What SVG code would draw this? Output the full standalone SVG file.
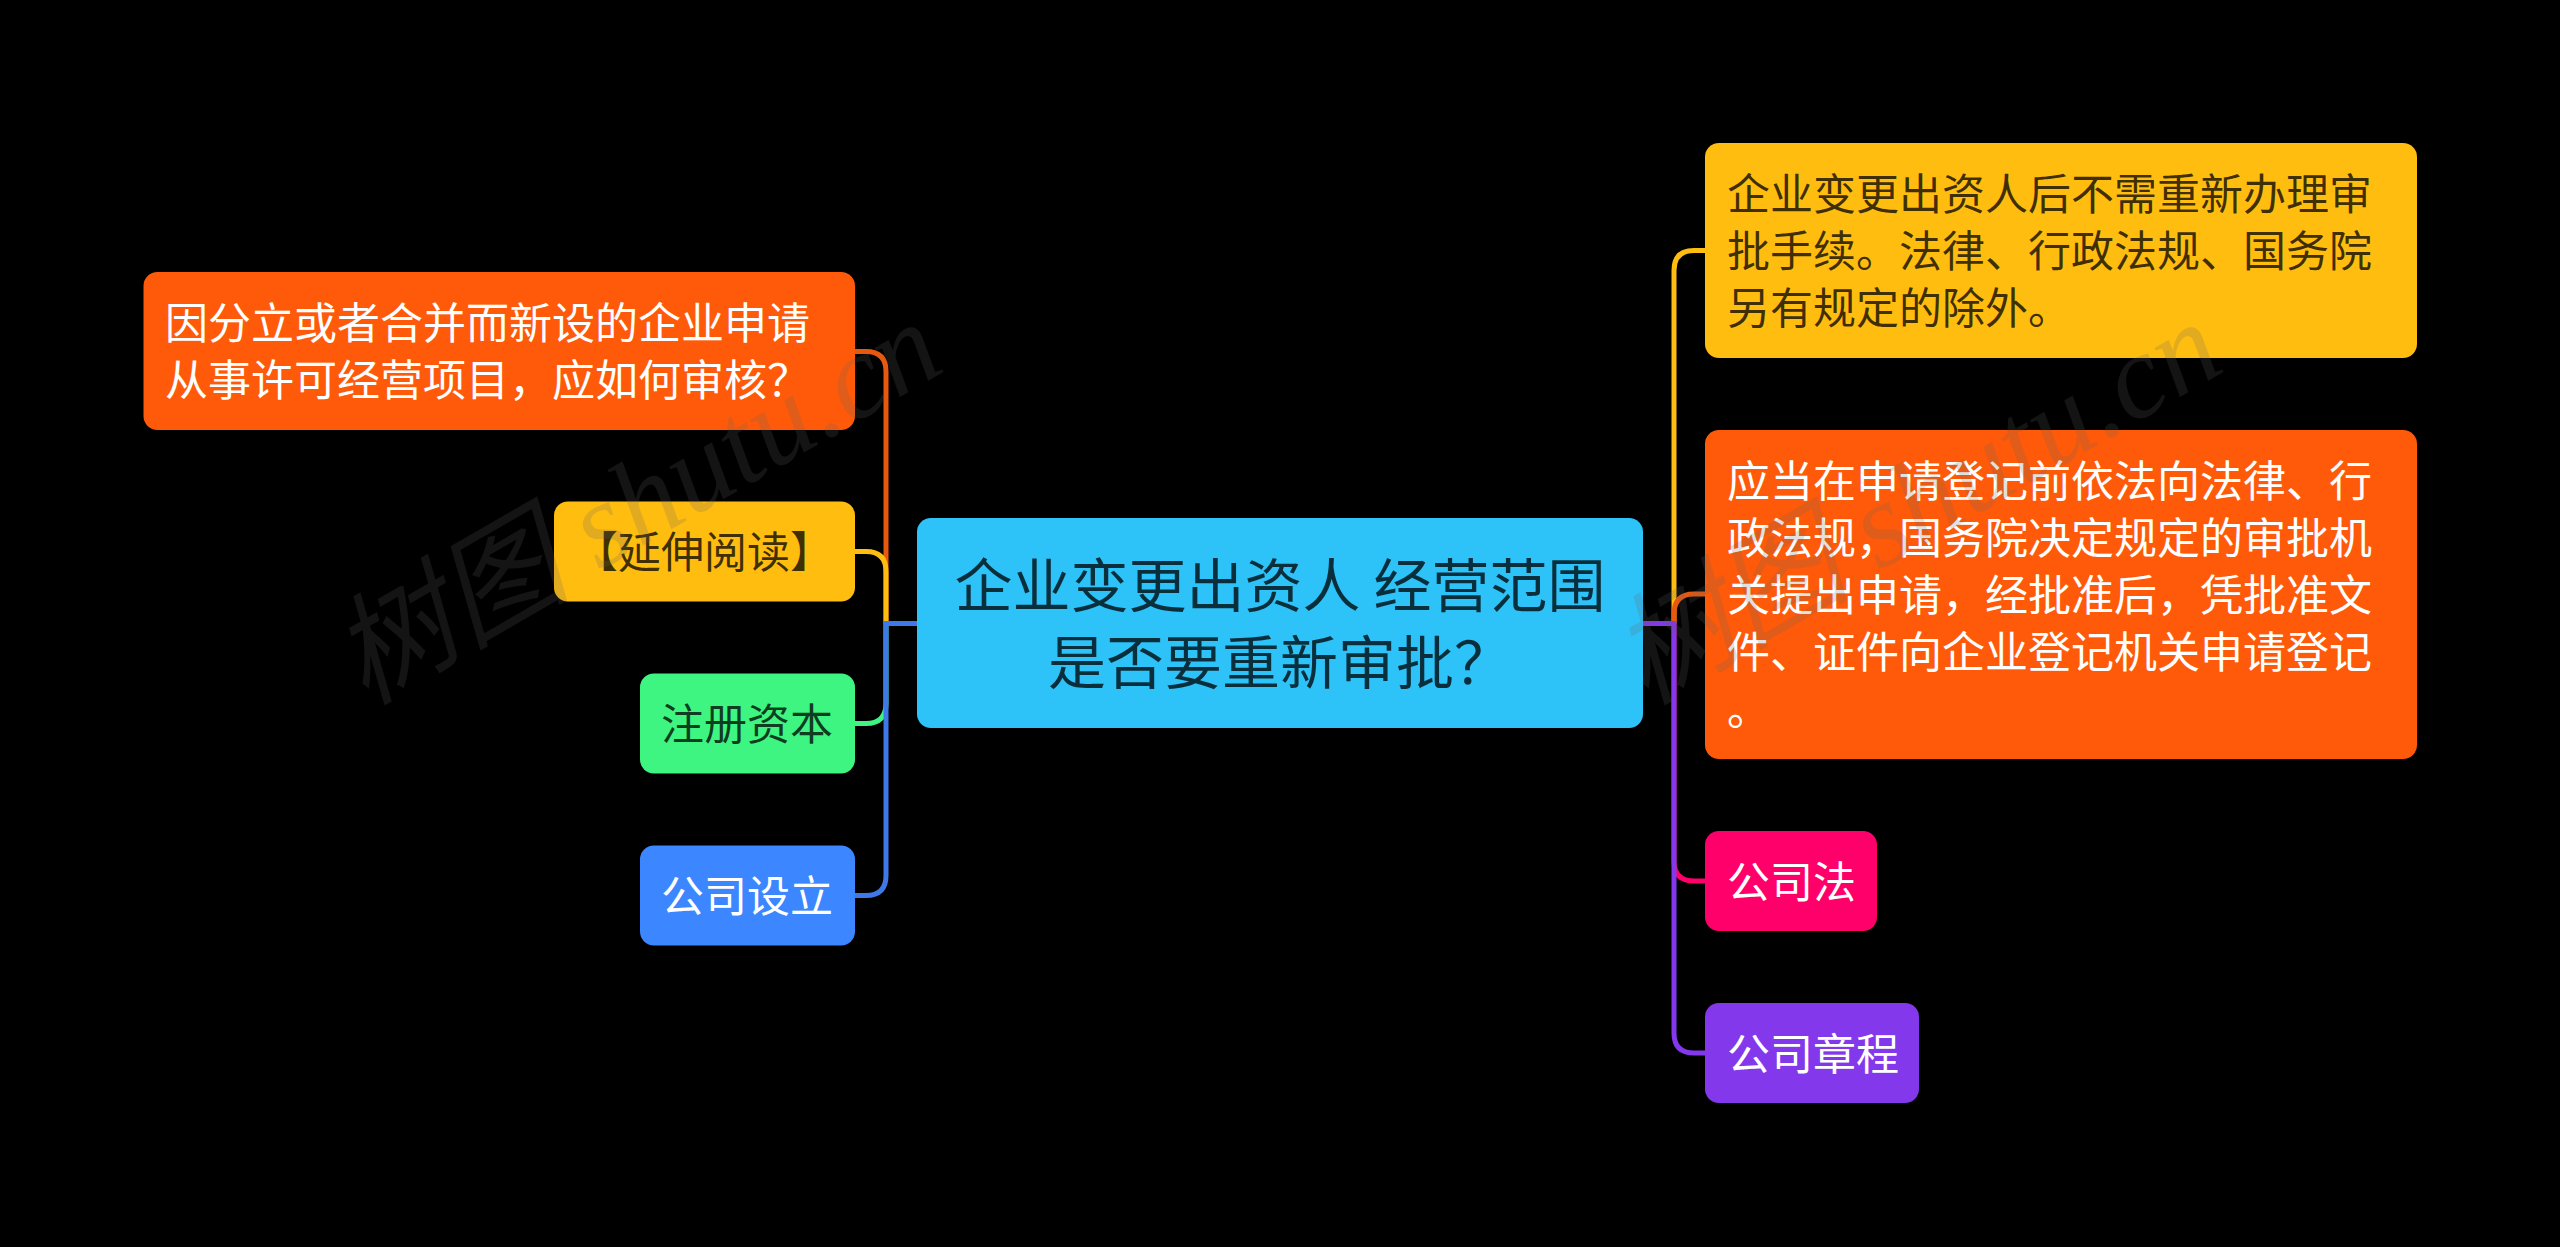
<svg xmlns="http://www.w3.org/2000/svg" width="2560" height="1247" viewBox="0 0 2560 1247">
<style>
text{font-family:"Noto Sans CJK SC","Liberation Sans",sans-serif;font-size:43px}
.w{fill:#fff}.d{fill:#000;fill-opacity:.76}
.t{font-size:58px}
.c{fill:none;stroke-width:5}
.wm{font-family:"Liberation Serif","Noto Sans CJK SC",serif;font-style:italic;font-size:120px;fill:#666;fill-opacity:.2}
</style>
<rect width="2560" height="1247" fill="#000"/>
<g id="connectors">
<path class="c" stroke="#E8590F" d="M855 351.500H866Q886 351.500 886 371.500V623.500"/>
<path class="c" stroke="#FFBD0F" d="M855 551.500H866Q886 551.500 886 571.500V623.500"/>
<path class="c" stroke="#3DF580" d="M855 723.500H866Q886 723.500 886 703.500V623.500"/>
<path class="c" stroke="#3F78E8" d="M917 623.500H886V875.500Q886 895.500 866 895.500H855"/>
<path class="c" stroke="#FFBD0F" d="M1705 250.500H1694Q1674 250.500 1674 270.500V623.500"/>
<path class="c" stroke="#E8590F" d="M1705 594H1694Q1674 594 1674 614V623.500"/>
<path class="c" stroke="#FF006B" d="M1705 881H1694Q1674 881 1674 861V623.500"/>
<path class="c" stroke="#8338EC" d="M1643 623.500H1674V1033Q1674 1053 1694 1053H1705"/>
</g>
<g id="center"><rect x="917" y="518" width="726" height="210" rx="14" fill="#2DC3F9"/>
<text class="d t" x="1280" y="607" text-anchor="middle" xml:space="preserve">企业变更出资人 经营范围</text>
<text class="d t" x="1280" y="684" text-anchor="middle" xml:space="preserve">是否要重新审批？</text></g>
<g id="left1"><rect x="143.500" y="272" width="711.500" height="158" rx="14" fill="#FF5A09"/>
<text class="w" x="165" y="339">因分立或者合并而新设的企业申请</text>
<text class="w" x="165" y="396">从事许可经营项目，应如何审核？</text></g>
<g id="left2"><rect x="554" y="501.500" width="301" height="100" rx="14" fill="#FFBD0F"/>
<text class="d" x="575" y="568">【延伸阅读】</text></g>
<g id="left3"><rect x="640" y="673.500" width="215" height="100" rx="14" fill="#3DF580"/>
<text class="d" x="661" y="740">注册资本</text></g>
<g id="left4"><rect x="640" y="845.500" width="215" height="100" rx="14" fill="#3C86FF"/>
<text class="w" x="661" y="912">公司设立</text></g>
<g id="right1"><rect x="1705" y="143" width="712" height="215" rx="14" fill="#FFBD0F"/>
<text class="d" x="1727" y="210">企业变更出资人后不需重新办理审</text>
<text class="d" x="1727" y="267">批手续。法律、行政法规、国务院</text>
<text class="d" x="1727" y="324">另有规定的除外。</text></g>
<g id="right2"><rect x="1705" y="430" width="712" height="329" rx="14" fill="#FF5A09"/>
<text class="w" x="1727" y="497">应当在申请登记前依法向法律、行</text>
<text class="w" x="1727" y="554">政法规，国务院决定规定的审批机</text>
<text class="w" x="1727" y="611">关提出申请，经批准后，凭批准文</text>
<text class="w" x="1727" y="668">件、证件向企业登记机关申请登记</text>
<text class="w" x="1727" y="725">。</text></g>
<g id="right3"><rect x="1705" y="831" width="172" height="100" rx="14" fill="#FF006B"/>
<text class="w" x="1727" y="898">公司法</text></g>
<g id="right4"><rect x="1705" y="1003" width="214" height="100" rx="14" fill="#8338EC"/>
<text class="w" x="1727" y="1070">公司章程</text></g>
<g id="watermarks">
<text class="wm" transform="translate(365 706) rotate(-30)">树图 shutu.cn</text>
<text class="wm" transform="translate(1645 706) rotate(-30)">树图 shutu.cn</text>
</g>
</svg>
